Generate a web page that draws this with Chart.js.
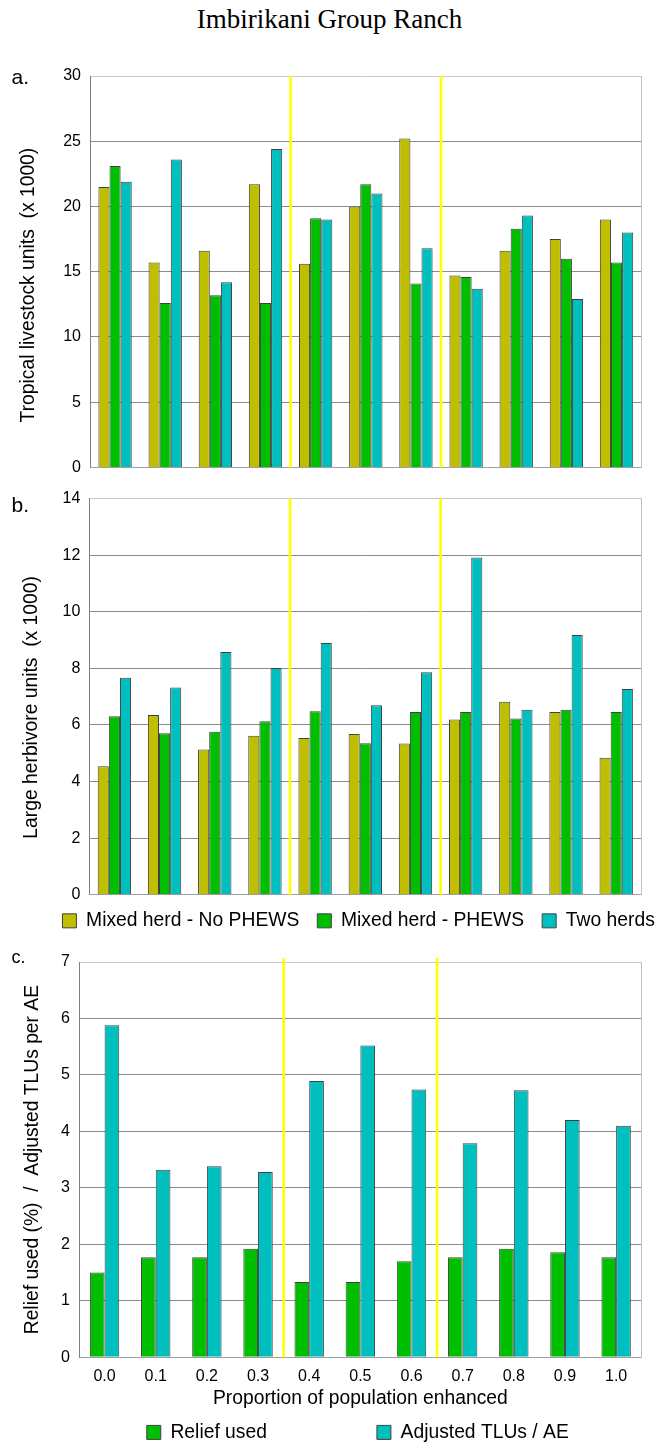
<!DOCTYPE html>
<html>
<head>
<meta charset="utf-8">
<title>Imbirikani Group Ranch</title>
<script src="https://cdn.jsdelivr.net/npm/chart.js@4/dist/chart.umd.min.js"></script>
<style>
  html, body { margin: 0; padding: 0; background: #fff; }
  #page { position: relative; width: 656px; height: 1443px; overflow: hidden; background: #fff; }
  .txt { position: absolute; white-space: nowrap; color: #000; }
  .sans { font-family: 'Liberation Sans', Arial, Helvetica, sans-serif; }
  .panel { position: absolute; left: 0; }
  canvas { display: block; }
</style>
</head>
<body>
<div id="page">
  <canvas id="chartA" class="panel" width="656" height="430" style="top:56px;width:656px;height:430px"></canvas>
  <canvas id="chartB" class="panel" width="656" height="462" style="top:480px;width:656px;height:462px"></canvas>
  <canvas id="chartC" class="panel" width="656" height="610" style="top:940px;width:656px;height:610px"></canvas>

  <div class="txt" style="left:1.5px;width:656px;text-align:center;top:6.4px;font:27px/27px 'Liberation Serif','Times New Roman',serif;">Imbirikani Group Ranch</div>
  <div class="txt sans" style="left:11.5px;top:65.5px;font-size:21px;line-height:21px;">a.</div>
  <div class="txt sans" style="left:11.5px;top:493.9px;font-size:21px;line-height:21px;">b.</div>
  <div class="txt sans" style="left:11.5px;top:948.1px;font-size:18px;line-height:18px;">c.</div>
</div>

<script>
// Proportion of the population using the enhanced strategy
const categories = ['0.0', '0.1', '0.2', '0.3', '0.4', '0.5', '0.6', '0.7', '0.8', '0.9', '1.0'];

// a. Tropical livestock units (x 1000)
const tluNoPhews   = [21.5, 15.7, 16.6, 21.7, 15.6, 20.0, 25.2, 14.7, 16.6, 17.5, 19.0];
const tluPhews     = [23.1, 12.6, 13.2, 12.6, 19.1, 21.7, 14.1, 14.6, 18.3, 16.0, 15.7];
const tluTwoHerds  = [21.9, 23.6, 14.2, 24.4, 19.0, 21.0, 16.8, 13.7, 19.3, 12.9, 18.0];

// b. Large herbivore units (x 1000)
const lhuNoPhews   = [4.54, 6.35, 5.13, 5.62, 5.54, 5.68, 5.34, 6.19, 6.82, 6.46, 4.84];
const lhuPhews     = [6.31, 5.71, 5.76, 6.13, 6.48, 5.35, 6.46, 6.46, 6.23, 6.54, 6.46];
const lhuTwoHerds  = [7.67, 7.32, 8.58, 8.01, 8.90, 6.70, 7.86, 11.92, 6.54, 9.18, 7.27];

// c. Relief used (%) and adjusted TLUs per adult equivalent
const reliefUsed       = [1.50, 1.77, 1.77, 1.92, 1.33, 1.33, 1.70, 1.77, 1.92, 1.86, 1.77];
const adjustedTluPerAE = [5.88, 3.32, 3.38, 3.28, 4.89, 5.52, 4.74, 3.79, 4.73, 4.20, 4.10];

// Regime boundaries, between categories (0.3 | 0.4) and (0.6 | 0.7)
const regimeBreaks = [3.5, 6.5];

const OLIVE = '#BFBF00', GREEN = '#00BF00', CYAN = '#00BFBF';

Chart.defaults.font.family = "'Liberation Sans', Arial, Helvetica, sans-serif";
Chart.defaults.color = '#000';

// Vertical yellow lines marking the regime boundaries
const regimeLines = {
  id: 'regimeLines',
  afterDatasetsDraw(chart, args, opts) {
    const { ctx, chartArea, scales } = chart;
    const x = scales.x;
    ctx.save();
    ctx.strokeStyle = '#FFFF00';
    ctx.lineWidth = 2.6;
    (opts.at || []).forEach(v => {
      const px = x.getPixelForValue(v);
      ctx.beginPath();
      ctx.moveTo(px, chartArea.top - (opts.overshoot || 0));
      ctx.lineTo(px, chartArea.bottom);
      ctx.stroke();
    });
    ctx.restore();
  }
};

// Moves the legend block after layout without changing the plot area
const legendNudge = {
  id: 'legendNudge',
  afterLayout(chart, args, opts) {
    const lg = chart.legend;
    if (!lg || !opts) return;
    const dx = opts.dx || 0, dy = opts.dy || 0;
    lg.left += dx; lg.right += dx;
    lg.top += dy; lg.bottom += dy;
  }
};

function barPanel(canvasId, spec) {
  return new Chart(document.getElementById(canvasId), {
    type: 'bar',
    data: {
      labels: categories,
      datasets: spec.series.map(s => ({
        label: s.label,
        data: s.data,
        yAxisID: 'y',
        backgroundColor: s.color,
        borderColor: '#404040',
        borderWidth: 1,
        barPercentage: 1,
        categoryPercentage: spec.groupShare
      }))
    },
    options: {
      responsive: false,
      animation: false,
      events: [],
      layout: { padding: { top: spec.top, left: 0, right: 0, bottom: 0 } },
      plugins: {
        legend: spec.legend ? {
          display: true,
          position: 'bottom',
          labels: { boxWidth: 14, boxHeight: 14, padding: spec.legend.gap, font: { size: 19.3 }, color: '#000' }
        } : { display: false },
        legendNudge: spec.legend ? { dx: spec.legend.dx, dy: spec.legend.dy } : {},
        tooltip: { enabled: false },
        regimeLines: { at: regimeBreaks, overshoot: spec.overshoot || 0 }
      },
      scales: {
        x: {
          grid: { display: false, drawTicks: false },
          border: { display: true, color: '#a0a0a0' },
          ticks: { display: spec.xTicks, padding: 10, font: { size: 16 } },
          title: { display: !!spec.xTitle, text: spec.xTitle || '', font: { size: 19.3 }, padding: { top: 0, bottom: 0 } },
          afterFit: s => { s.height = spec.xHeight; }
        },
        y: {
          min: 0,
          max: spec.max,
          ticks: { stepSize: spec.step, padding: 9, font: { size: 16 } },
          grid: {
            drawTicks: false,
            color: c => (c.tick && c.tick.value === spec.max) ? '#c8c8c8' : '#8c8c8c'
          },
          border: { display: true, color: '#808080' },
          title: { display: true, text: spec.yTitle, font: { size: 19.3 }, padding: { top: spec.yTitlePad, bottom: 0 } },
          afterFit: s => { s.width = spec.left; }
        },
        edge: {
          type: 'linear',
          position: 'right',
          display: true,
          grid: { display: false, drawTicks: false },
          ticks: { display: false },
          border: { display: true, color: '#c0c0c0' },
          afterFit: s => { s.width = spec.rightGap; }
        }
      }
    },
    plugins: [regimeLines, legendNudge]
  });
}

barPanel('chartA', {
  series: [
    { label: 'Mixed herd - No PHEWS', data: tluNoPhews, color: OLIVE },
    { label: 'Mixed herd - PHEWS', data: tluPhews, color: GREEN },
    { label: 'Two herds', data: tluTwoHerds, color: CYAN }
  ],
  groupShare: 0.665,
  top: 20, left: 90, rightGap: 14.4,
  max: 30, step: 5,
  yTitle: 'Tropical livestock units  (x 1000)     ',
  yTitlePad: 17,
  xTicks: false, xHeight: 14
});

barPanel('chartB', {
  series: [
    { label: 'Mixed herd - No PHEWS', data: lhuNoPhews, color: OLIVE },
    { label: 'Mixed herd - PHEWS', data: lhuPhews, color: GREEN },
    { label: 'Two herds', data: lhuTwoHerds, color: CYAN }
  ],
  groupShare: 0.665,
  top: 18.3, left: 89.3, rightGap: 14.7,
  max: 14, step: 2,
  yTitle: 'Large herbivore units  (x 1000)    ',
  yTitlePad: 20,
  xTicks: false, xHeight: 0,
  legend: { gap: 18, dx: 30.6, dy: -1.5 }
});

barPanel('chartC', {
  series: [
    { label: 'Relief used', data: reliefUsed, color: GREEN },
    { label: 'Adjusted TLUs / AE', data: adjustedTluPerAE, color: CYAN }
  ],
  groupShare: 0.575,
  top: 22, left: 79, rightGap: 14.3,
  max: 7, step: 1,
  overshoot: 4,
  yTitle: 'Relief used (%)  /  Adjusted TLUs per AE',
  yTitlePad: 21,
  xTicks: true, xHeight: 53.5,
  xTitle: 'Proportion of population enhanced',
  legend: { gap: 110, dx: 29.8, dy: -97.95 }
});
</script>
</body>
</html>
